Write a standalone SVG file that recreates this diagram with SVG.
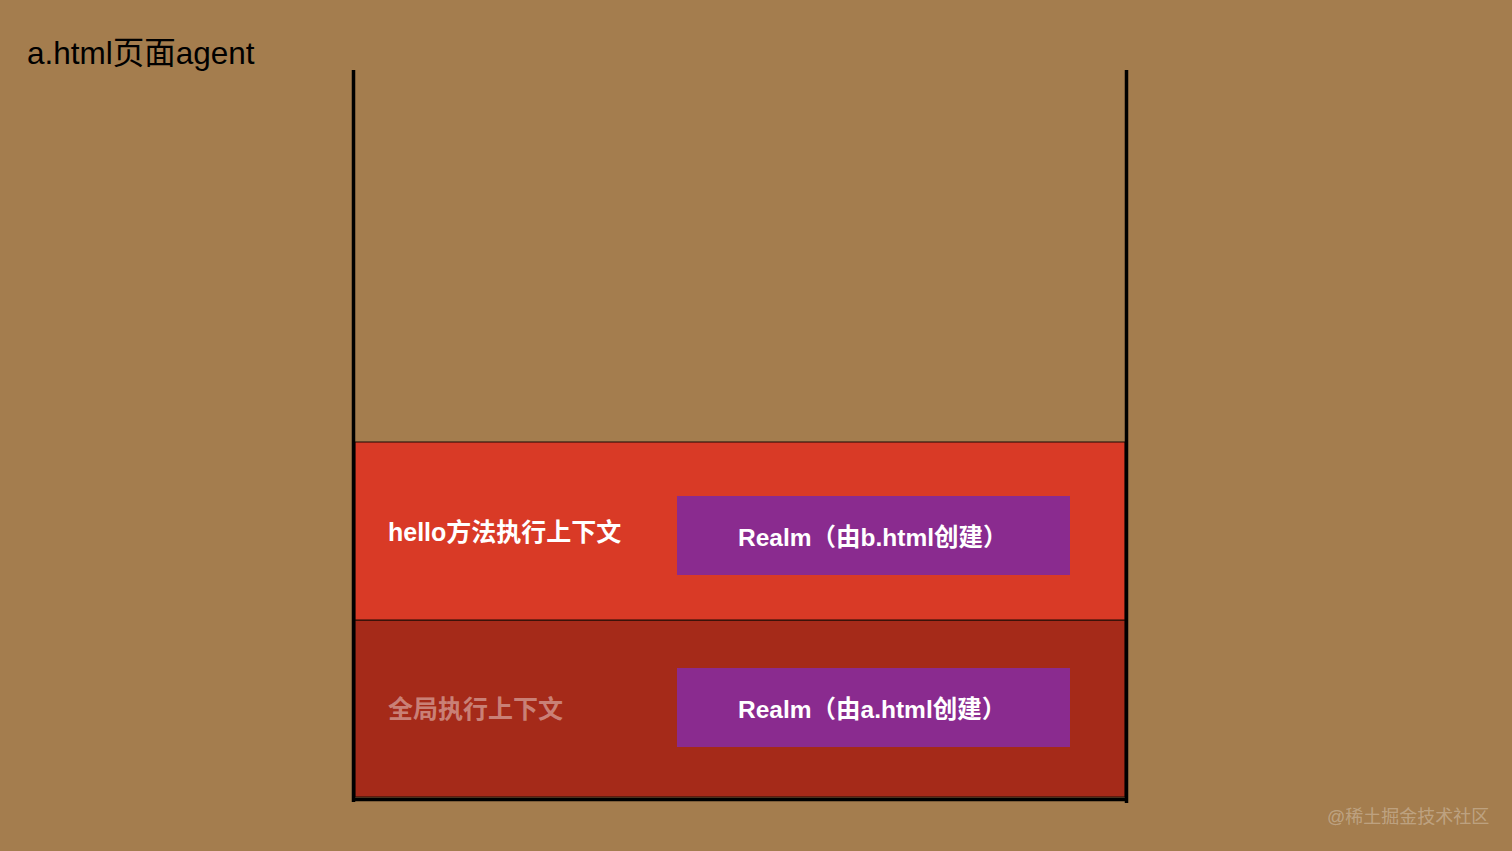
<svg xmlns="http://www.w3.org/2000/svg" width="1512" height="851" viewBox="0 0 1512 851">
<style>
text{font-family:"Liberation Sans","Noto Sans CJK SC",sans-serif}
.lbl{font-size:25px;font-weight:bold;fill:#ffffff}
.rl{font-size:24.5px}
.realm{fill:#8A2B8F}
.wall{stroke:#000;stroke-width:3.5;fill:none}
</style>
<rect x="0" y="0" width="1512" height="851" fill="#A47D4E"/>
<text x="27" y="64" font-size="31.5" fill="#000">a.html页面agent</text>
<g id="global-ctx">
<rect x="355" y="620" width="770" height="177" fill="#A52A19" stroke="#1a0a05" stroke-width="1"/>
<text x="388" y="718" class="lbl" style="fill:#ffffff;fill-opacity:0.42">全局执行上下文</text>
</g>
<g id="hello-ctx">
<rect x="355" y="442" width="770" height="178" fill="#D93A26" stroke="#1a0a05" stroke-width="1"/>
<text x="388" y="541" class="lbl">hello方法执行上下文</text>
</g>
<g id="realm-b">
<rect x="677" y="496" width="393" height="79" class="realm"/>
<text x="738" y="546" class="lbl rl">Realm（由b.html创建）</text>
</g>
<g id="realm-a">
<rect x="677" y="668" width="393" height="79" class="realm"/>
<text x="738" y="718" class="lbl rl">Realm（由a.html创建）</text>
</g>
<g id="stack">
<path class="wall" d="M353.5 70 V802 M1126.5 70 V803 M353.5 799.5 H1126.5"/>
</g>
<text x="1327" y="823" font-size="18" fill="#ffffff" fill-opacity="0.3">@稀土掘金技术社区</text>
</svg>
